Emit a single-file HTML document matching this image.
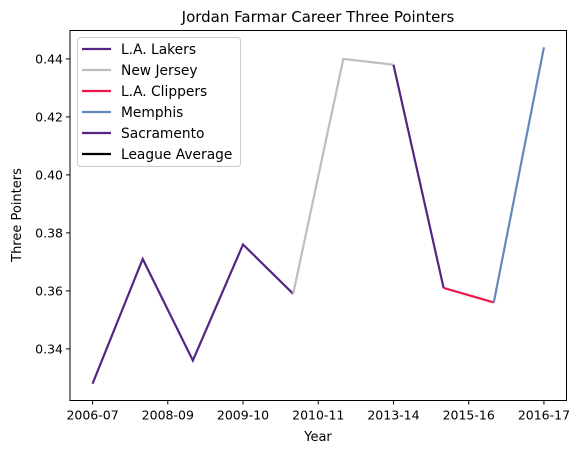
<!DOCTYPE html>
<html><head><meta charset="utf-8"><style>
body{margin:0;background:#fff;}
svg text{font-family:"DejaVu Sans","Liberation Sans",sans-serif;fill:#000;}
</style></head><body>
<svg id="chart" width="582" height="453" xmlns="http://www.w3.org/2000/svg">
<text x="318" y="22" font-size="15" text-anchor="middle">Jordan Farmar Career Three Pointers</text>
<text transform="translate(21,215) rotate(-90)" font-size="13" text-anchor="middle">Three Pointers</text>
<text x="318" y="441" font-size="13" text-anchor="middle">Year</text>
<g id="marks"></g>
<g id="axes"></g>
<rect x="70" y="30.5" width="496.5" height="370" fill="none" stroke="#000" stroke-width="1"/>
<g id="legend"></g>
</svg>
<script>
const seasons=["2006-07","2007-08","2008-09","2009-10","2010-11","2011-12","2013-14","2014-15","2015-16","2016-17"];
const values=[0.328,0.371,0.336,0.376,0.359,0.440,0.438,0.361,0.356,0.444];
const segTeams=["L.A. Lakers","New Jersey","Sacramento","L.A. Clippers","Memphis"];
const segStart=[0,4,6,7,8];
const segEnd=[4,6,7,8,9];
const xTickPos=[0,1.5,3,4.5,6,7.5,9];
const xTickLabels=["2006-07","2008-09","2009-10","2010-11","2013-14","2015-16","2016-17"];
const yTicks=[0.34,0.36,0.38,0.40,0.42,0.44];
const legendTeams=["L.A. Lakers","New Jersey","L.A. Clippers","Memphis","Sacramento","League Average"];
const colors={"L.A. Lakers":"#552583","New Jersey":"#bebebe","L.A. Clippers":"#ed174c","Memphis":"#6189b9","Sacramento":"#552583","League Average":"#000000"};
const NS="http://www.w3.org/2000/svg";
const L=70,R=566.5,T=30.5,B=400.5;
const n=values.length;
const xMin=-0.05*(n-1),xMax=(n-1)*1.05;
const vmin=Math.min(...values),vmax=Math.max(...values),pad=(vmax-vmin)*0.05;
const yMin=vmin-pad,yMax=vmax+pad;
const x=i=>L+(i-xMin)/(xMax-xMin)*(R-L);
const y=v=>B-(v-yMin)/(yMax-yMin)*(B-T);
function mk(t,a,p){const e=document.createElementNS(NS,t);for(const k in a)e.setAttribute(k,a[k]);p.appendChild(e);return e;}
const marks=document.getElementById('marks'),axes=document.getElementById('axes'),leg=document.getElementById('legend');
segTeams.forEach((t,s)=>{
  let pts=[];for(let i=segStart[s];i<=segEnd[s];i++)pts.push(x(i)+","+y(values[i]));
  const p=mk('polyline',{points:pts.join(' '),fill:'none',stroke:colors[t],'stroke-width':2.2},marks);
  
  
});
xTickPos.forEach((v,i)=>{
  const l=mk('line',{x1:x(v),x2:x(v),y1:B,y2:B+4,stroke:'#000'},axes);
  
  
  const t=mk('text',{x:x(v),y:B+19,'font-size':12.5,'text-anchor':'middle'},axes);t.textContent=xTickLabels[i];
  
  
});
yTicks.forEach(v=>{
  const l=mk('line',{x1:L-4,x2:L,y1:y(v),y2:y(v),stroke:'#000'},axes);
  
  
  const t=mk('text',{x:L-7,y:y(v)+4.5,'font-size':12.5,'text-anchor':'end'},axes);t.textContent=v.toFixed(2);
  
  
});
const box=mk('rect',{x:77.5,y:37.5,width:163,height:129,rx:3,fill:'#fff','fill-opacity':0.8,stroke:'#ccc'},leg);


legendTeams.forEach((t,i)=>{
  const yy=49+i*21;
  const l=mk('line',{x1:82,x2:111,y1:yy,y2:yy,stroke:colors[t],'stroke-width':2.2},leg);
  
  
  const tx=mk('text',{x:121,y:yy+5,'font-size':13.8},leg);tx.textContent=t;
  
  
});
</script>
</body></html>
